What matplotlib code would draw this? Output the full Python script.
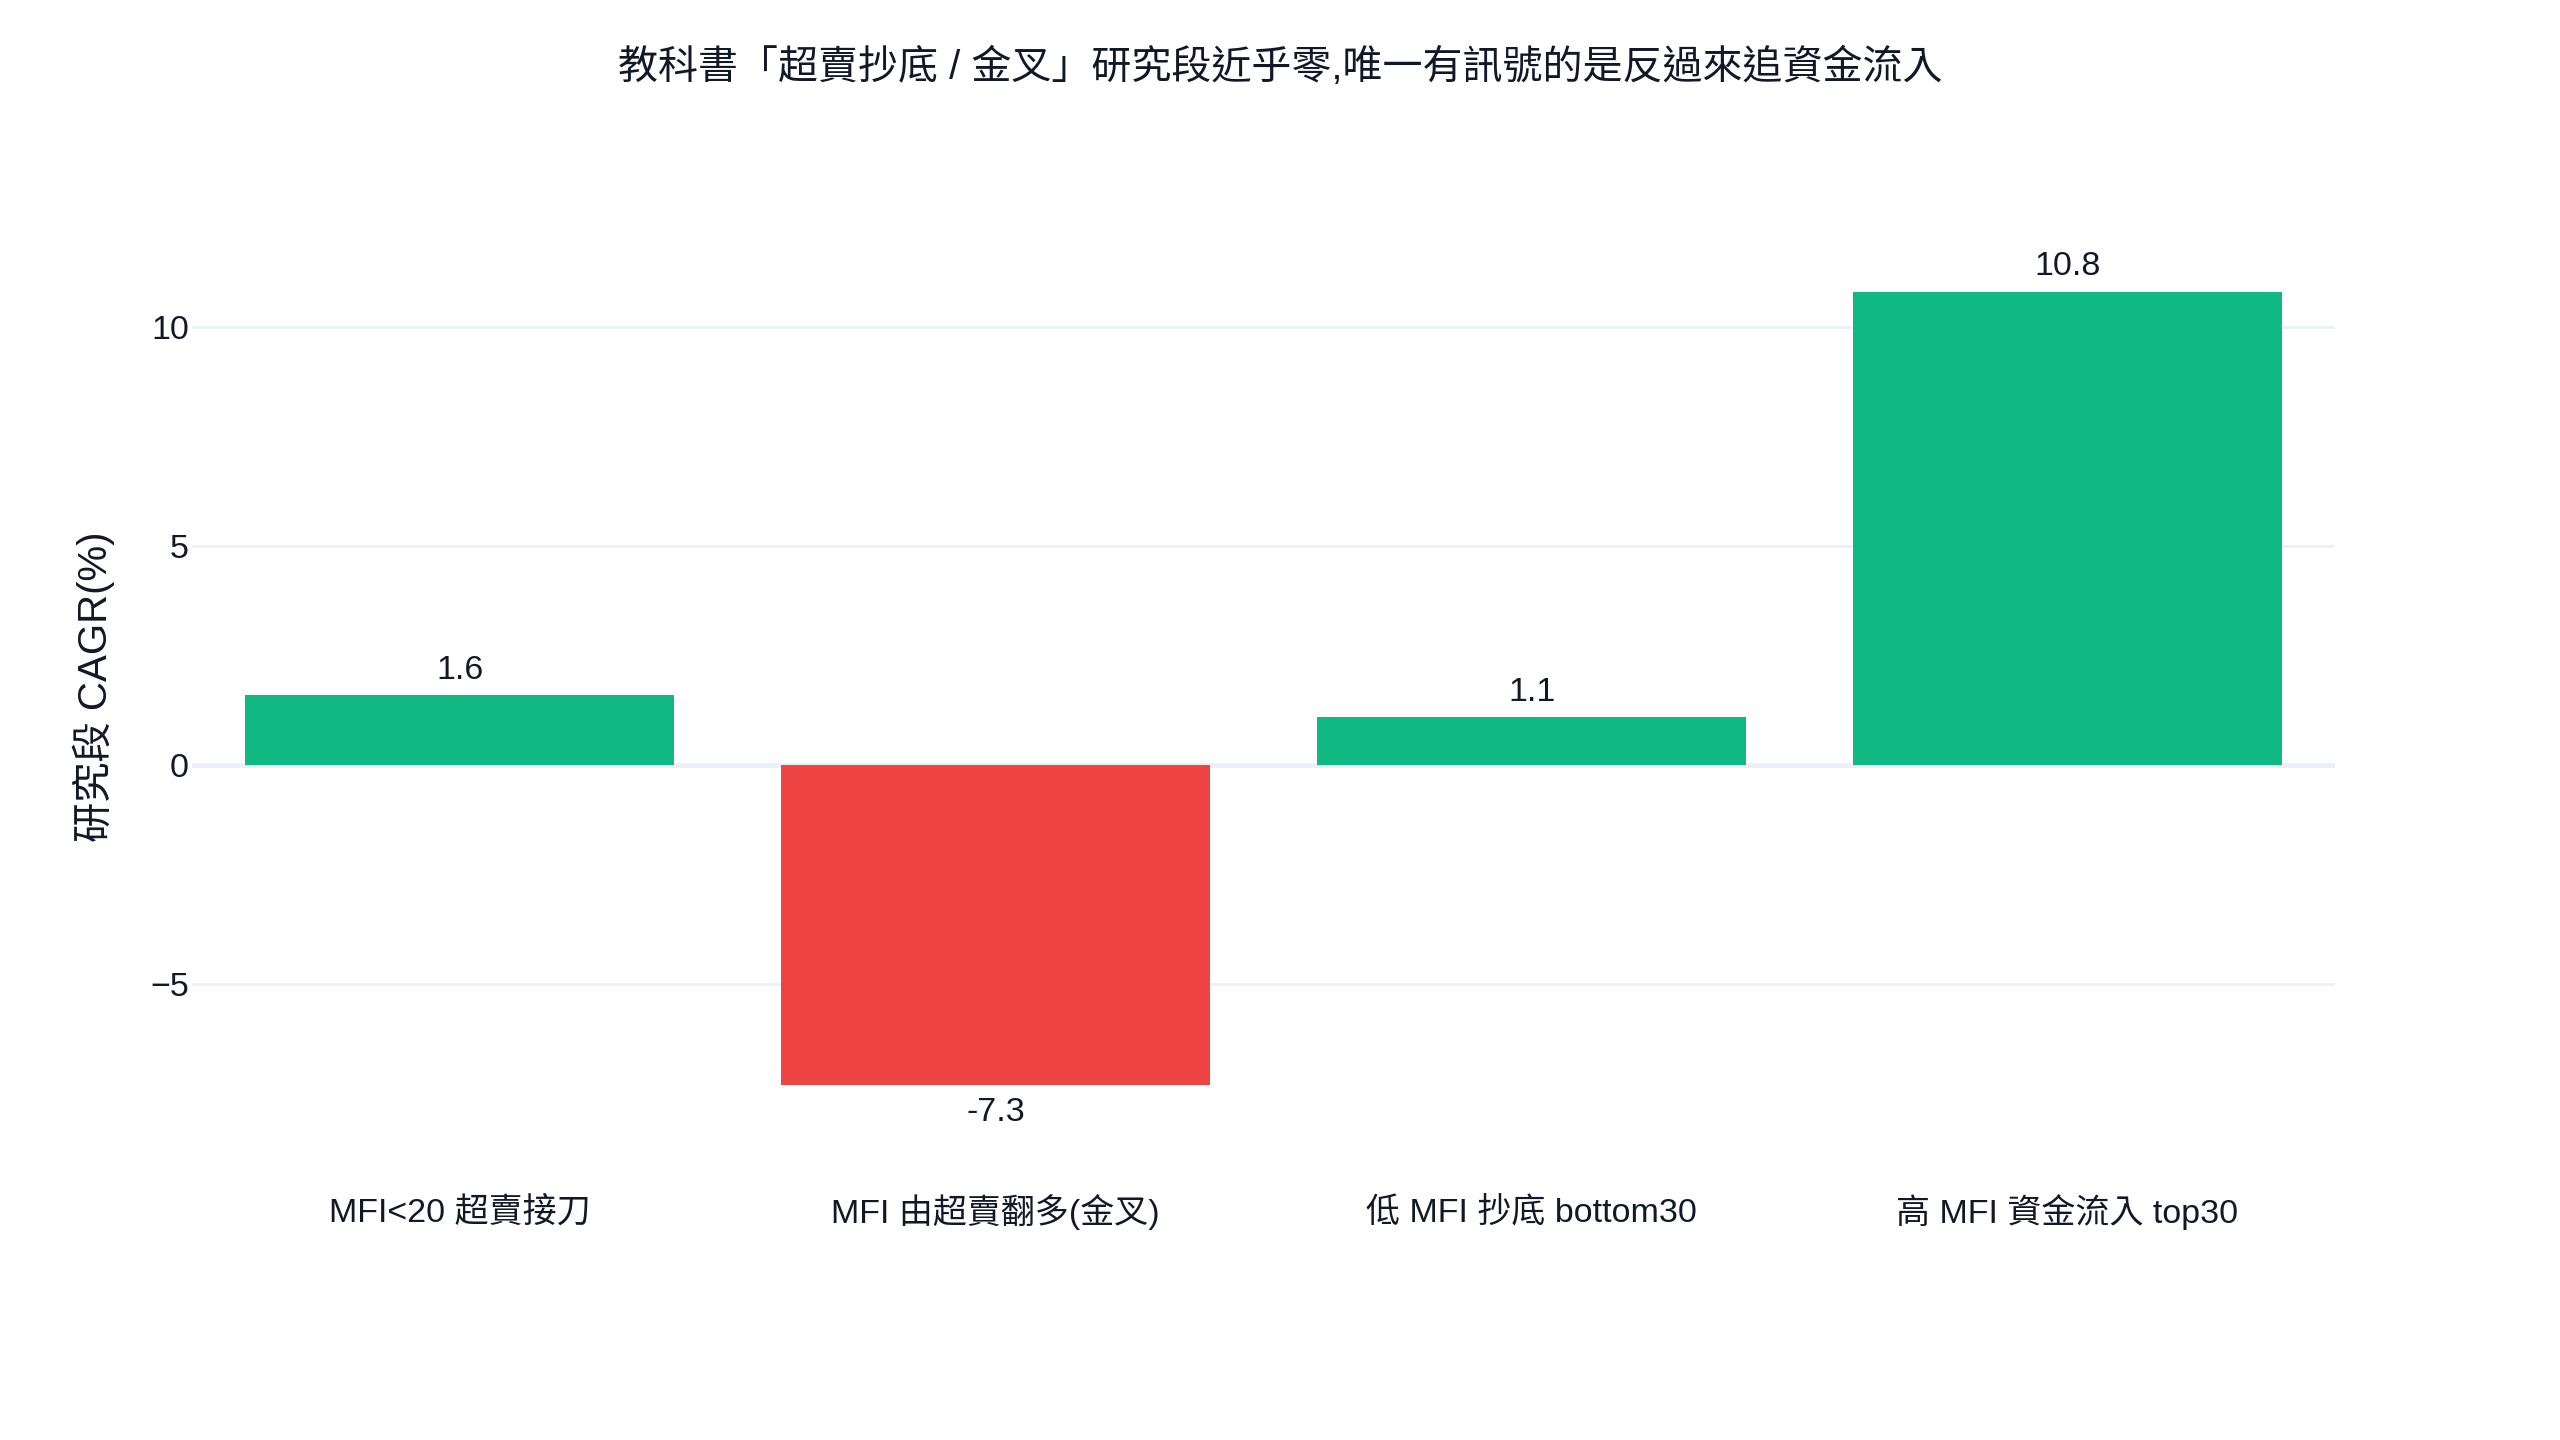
import matplotlib
matplotlib.use("Agg")
import matplotlib.pyplot as plt

# 資料
categories = ["MFI<20 超賣接刀", "MFI 由超賣翻多(金叉)", "低 MFI 抄底 bottom30", "高 MFI 資金流入 top30"]
cagr = [1.6, -7.3, 1.1, 10.8]
y_ticks = [-5, 0, 5, 10]

GREEN = "#10b981"
RED = "#ef4444"
GRID = "#ebf0f8"
TEXT = "#111827"
FONT = ["Liberation Sans", "Noto Sans CJK TC", "DejaVu Sans"]

plt.rcParams["font.family"] = FONT

fig = plt.figure(figsize=(25.6, 14.4), dpi=100)
ax = fig.add_axes([0.0749, 0.1824, 0.8374, 0.6667])

colors = [GREEN if v >= 0 else RED for v in cagr]
x = range(len(categories))
ax.bar(x, cagr, width=0.8, color=colors, zorder=3)

for i, v in enumerate(cagr):
    off = 25 if v >= 0 else -27
    ax.annotate(f"{v:.1f}", (i, v), xytext=(0, off), textcoords="offset pixels",
                ha="center", va="center", fontsize=24.5, color=TEXT)

ax.set_xlim(-0.5, len(categories) - 0.5)
ax.set_ylim(-9.4, 12.5)
ax.set_yticks(y_ticks)
ax.set_yticklabels([f"{t}".replace("-", "\u2212") for t in y_ticks], fontsize=24.5, color=TEXT)
ax.set_xticks(list(x))
ax.set_xticklabels(categories, fontsize=24.5, color=TEXT)
for lab in ax.get_xticklabels():
    lab.set_verticalalignment("center")
ax.tick_params(axis="both", length=0)
ax.tick_params(axis="x", pad=25)
ax.tick_params(axis="y", pad=2)

ax.grid(axis="y", color=GRID, linewidth=2, zorder=0)
ax.axhline(0, color=GRID, linewidth=3.5, zorder=1)
for s in ax.spines.values():
    s.set_visible(False)

ax.set_ylabel("研究段 CAGR(%)", fontsize=29, color=TEXT)
ax.yaxis.set_label_coords(-0.036, 0.511)

fig.text(0.5, 1 - 67 / 1440, "教科書「超賣抄底 / 金叉」研究段近乎零,唯一有訊號的是反過來追資金流入",
         ha="center", va="center", fontsize=28.8, color=TEXT)

fig.savefig("out.png", dpi=100, facecolor="white")
